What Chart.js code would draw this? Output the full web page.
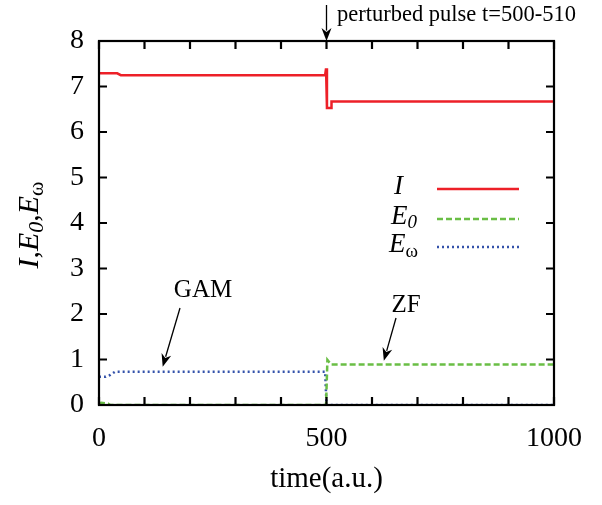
<!DOCTYPE html>
<html>
<head>
<meta charset="utf-8">
<script src="https://cdn.jsdelivr.net/npm/chart.js@4/dist/chart.umd.min.js"></script>
<style>
  html, body { margin: 0; padding: 0; background: #fff; }
  #container { width: 602px; height: 505px; }
</style>
</head>
<body>
<div id="container"><canvas id="myChart" width="602" height="505"></canvas></div>
<script>
// time axis (a.u.) and values
var iTime = [0, 40, 48, 497, 499, 501, 510, 511, 1000];
var iVals = [7.29, 7.29, 7.25, 7.25, 7.4, 6.53, 6.53, 6.67, 6.67];

var e0Time = [0, 5, 20, 25, 499, 502, 510, 1000];
var e0Vals = [0.04, 0.05, 0.03, 0, 0, 0.99, 0.89, 0.89];

var ewTime = [0, 15, 25, 35, 497, 500, 1000];
var ewVals = [0.62, 0.62, 0.66, 0.73, 0.73, 0, 0];

var xTicks = [0, 500, 1000];
var yTicks = [0, 1, 2, 3, 4, 5, 6, 7, 8];

var red = 'rgb(237,32,40)';
var green = 'rgb(106,190,69)';
var blue = 'rgb(52,82,170)';
var serif = "'Liberation Serif', 'DejaVu Serif', serif";

function toPoints(t, v) {
  var pts = [];
  for (var i = 0; i < t.length; i++) {
    pts.push({x: t[i], y: v[i]});
  }
  return pts;
}

// draw an arrow with a filled head ending at (x2,y2)
function arrow(ctx, x1, y1, x2, y2) {
  var a = Math.atan2(y2 - y1, x2 - x1);
  var len = 13, w = 5;
  ctx.beginPath();
  ctx.moveTo(x1, y1);
  ctx.lineTo(x2 - Math.cos(a) * len * 0.8, y2 - Math.sin(a) * len * 0.8);
  ctx.stroke();
  ctx.beginPath();
  ctx.moveTo(x2, y2);
  ctx.lineTo(x2 - Math.cos(a) * len + Math.sin(a) * w, y2 - Math.sin(a) * len - Math.cos(a) * w);
  ctx.lineTo(x2 - Math.cos(a) * len * 0.7, y2 - Math.sin(a) * len * 0.7);
  ctx.lineTo(x2 - Math.cos(a) * len - Math.sin(a) * w, y2 - Math.sin(a) * len + Math.cos(a) * w);
  ctx.closePath();
  ctx.fill();
}

// write text pieces one after another: [text, italic, sizeScale, yShift]
function pieces(ctx, parts, x, y, size) {
  var cx = x;
  for (var i = 0; i < parts.length; i++) {
    var p = parts[i];
    ctx.font = (p[1] ? 'italic ' : '') + Math.round(size * p[2]) + 'px ' + serif;
    ctx.fillText(p[0], cx, y + p[3]);
    cx += ctx.measureText(p[0]).width;
  }
  return cx - x;
}

function partsWidth(ctx, parts, size) {
  var w = 0;
  for (var i = 0; i < parts.length; i++) {
    var p = parts[i];
    ctx.font = (p[1] ? 'italic ' : '') + Math.round(size * p[2]) + 'px ' + serif;
    w += ctx.measureText(p[0]).width;
  }
  return w;
}

var decor = {
  id: 'decor',
  afterDatasetsDraw: function (chart) {
    var ctx = chart.ctx;
    var a = chart.chartArea;
    var xs = chart.scales.x, ys = chart.scales.y;
    ctx.save();
    ctx.strokeStyle = '#000';
    ctx.fillStyle = '#000';

    // frame
    ctx.lineWidth = 2.2;
    ctx.strokeRect(a.left, a.top, a.right - a.left, a.bottom - a.top);

    // inward ticks on all four sides
    ctx.beginPath();
    for (var t = 0; t <= 1000; t += 100) {
      var px = xs.getPixelForValue(t);
      ctx.moveTo(px, a.bottom); ctx.lineTo(px, a.bottom - 8);
      ctx.moveTo(px, a.top); ctx.lineTo(px, a.top + 8);
    }
    for (var v = 0; v <= 8; v++) {
      var py = ys.getPixelForValue(v);
      ctx.moveTo(a.left, py); ctx.lineTo(a.left + 8, py);
      ctx.moveTo(a.right, py); ctx.lineTo(a.right - 8, py);
    }
    ctx.stroke();

    // x axis title
    ctx.textBaseline = 'alphabetic';
    ctx.font = '29px ' + serif;
    ctx.textAlign = 'center';
    ctx.fillText('time(a.u.)', (a.left + a.right) / 2, 487);

    // y axis title, rotated
    var yParts = [['I', true, 1, 0], [',', false, 1, 0], ['E', true, 1, 0], ['0', true, 0.72, 5],
                  [',', false, 1, 0], ['E', true, 1, 0], ['\u03c9', false, 0.72, 5]];
    ctx.save();
    ctx.translate(38, 225);
    ctx.rotate(-Math.PI / 2);
    ctx.textAlign = 'left';
    var yw = partsWidth(ctx, yParts, 30);
    pieces(ctx, yParts, -yw / 2, 0, 30);
    ctx.restore();

    // legend
    ctx.textAlign = 'left';
    var legend = [
      {parts: [['I', true, 1, 0]], x: 394, color: red, dash: [], y: 189},
      {parts: [['E', true, 1, 0], ['0', true, 0.72, 4]], x: 391, color: green, dash: [6, 3], y: 219},
      {parts: [['E', true, 1, 0], ['\u03c9', false, 0.72, 5]], x: 389, color: blue, dash: [2, 3], y: 247}
    ];
    for (var k = 0; k < legend.length; k++) {
      var L = legend[k];
      ctx.fillStyle = '#000';
      pieces(ctx, L.parts, L.x, L.y + 5, 27);
      ctx.strokeStyle = L.color;
      ctx.lineWidth = 2.5;
      ctx.setLineDash(L.dash);
      ctx.beginPath();
      ctx.moveTo(437, L.y);
      ctx.lineTo(519, L.y);
      ctx.stroke();
      ctx.setLineDash([]);
    }

    // annotations
    ctx.strokeStyle = '#000';
    ctx.fillStyle = '#000';
    ctx.lineWidth = 1.3;
    var px500 = xs.getPixelForValue(500);
    arrow(ctx, px500, 5, px500, a.top);
    ctx.textAlign = 'left';
    ctx.font = '22.5px ' + serif;
    ctx.fillText('perturbed pulse t=500-510', 337, 21);

    ctx.font = '25px ' + serif;
    ctx.textAlign = 'center';
    ctx.fillText('GAM', 203, 297);
    arrow(ctx, 180, 308, xs.getPixelForValue(140), ys.getPixelForValue(0.84));
    ctx.fillText('ZF', 406, 312);
    arrow(ctx, 396, 318, xs.getPixelForValue(626), ys.getPixelForValue(0.97));

    ctx.restore();
  }
};

var ctx = document.getElementById('myChart').getContext('2d');
var myChart = new Chart(ctx, {
  type: 'line',
  data: {
    datasets: [
      {label: 'I', data: toPoints(iTime, iVals), borderColor: red, borderWidth: 2.5,
       pointRadius: 0, tension: 0, fill: false},
      {label: 'E0', data: toPoints(e0Time, e0Vals), borderColor: green, borderWidth: 2.5,
       borderDash: [6, 3], pointRadius: 0, tension: 0, fill: false},
      {label: 'Ew', data: toPoints(ewTime, ewVals), borderColor: blue, borderWidth: 2.5,
       borderDash: [2, 3], pointRadius: 0, tension: 0, fill: false}
    ]
  },
  options: {
    responsive: false,
    animation: false,
    layout: {padding: {left: 0, right: 48, top: 41, bottom: 0}},
    plugins: {legend: {display: false}, tooltip: {enabled: false}},
    scales: {
      x: {
        type: 'linear', min: 0, max: 1000,
        afterBuildTicks: function (s) { s.ticks = xTicks.map(function (v) { return {value: v}; }); },
        afterFit: function (s) { s.height = 100; },
        grid: {display: false, drawTicks: false},
        border: {display: false},
        ticks: {color: '#000', padding: 17, maxRotation: 0, autoSkip: false,
                font: {family: serif, size: 28},
                callback: function (v) { return String(v); }}
      },
      y: {
        min: 0, max: 8,
        afterBuildTicks: function (s) { s.ticks = yTicks.map(function (v) { return {value: v}; }); },
        afterFit: function (s) { s.width = 99; },
        grid: {display: false, drawTicks: false},
        border: {display: false},
        ticks: {color: '#000', padding: 15, font: {family: serif, size: 28}}
      }
    }
  },
  plugins: [decor]
});
</script>
</body>
</html>
